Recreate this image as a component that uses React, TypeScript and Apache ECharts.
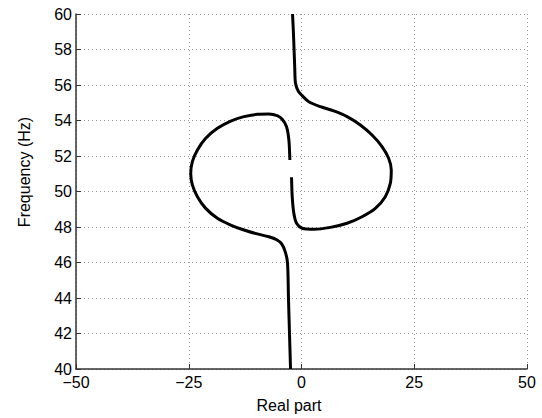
import React, { useEffect, useRef } from "react";
import * as echarts from "echarts";

const xTicks = [-50, -25, 0, 25, 50];
const yTicks = [40, 42, 44, 46, 48, 50, 52, 54, 56, 58, 60];

// Left loop + lower branch (x: real part, y: frequency Hz)
const curveAx = [-2.58, -2.8, -3.32, -4.28, -5.38, -7.23, -9.8, -12.76, -15.7, -18.65, -21.24, -23.08, -24.2, -24.56, -24.2, -23.08, -21.24, -18.65, -15.7, -12.76, -9.8, -7.23, -5.5, -4.4, -3.6, -3.1, -2.88, -2.65, -2.43];
const curveAy = [51.77, 52.9, 53.65, 54.07, 54.27, 54.37, 54.35, 54.22, 53.97, 53.56, 53.0, 52.34, 51.68, 51.02, 50.37, 49.71, 49.05, 48.49, 48.11, 47.83, 47.61, 47.45, 47.28, 47.05, 46.6, 45.97, 43.9, 41.9, 40.0];

// Upper branch + right loop
const curveBx = [-1.99, -1.8, -1.65, -1.5, -1.33, -0.7, 0.15, 1.62, 4.2, 7.15, 10.1, 13.05, 15.64, 17.85, 19.32, 19.91, 19.69, 18.58, 16.37, 13.43, 10.1, 6.42, 2.73, 0.15, -1.1, -1.7, -2.06, -2.21];
const curveBy = [60.0, 59.0, 58.0, 57.0, 56.1, 55.65, 55.4, 55.06, 54.78, 54.54, 54.22, 53.75, 53.18, 52.53, 51.87, 51.21, 50.46, 49.71, 49.05, 48.58, 48.21, 47.98, 47.87, 47.93, 48.21, 48.77, 49.71, 50.8];

const xLabel = "Real part";
const yLabel = "Frequency (Hz)";

const FONT = "'Liberation Sans', Arial, Helvetica, sans-serif";

export default function App() {
  const ref = useRef<HTMLDivElement>(null);
  useEffect(() => {
    if (!ref.current) return;
    const chart = echarts.init(ref.current, null, { renderer: "svg" });
    const pairs = (xs: number[], ys: number[]) => xs.map((x, i) => [x, ys[i]]);
    const fmt = (v: number) => (v < 0 ? "\u2212" + Math.abs(v) : String(v));
    const axisCommon = {
      type: "value" as const,
      axisLine: { show: true, onZero: false, lineStyle: { color: "#333", width: 1.5 } },
      axisTick: { show: true, inside: true, length: 5, lineStyle: { color: "#333", width: 1 } },
      splitLine: { show: true, lineStyle: { color: "#999", width: 1, type: [1, 3] as any } },
      axisLabel: { color: "#000", fontSize: 16, lineHeight: 12, fontFamily: FONT, formatter: fmt },
    };
    chart.setOption({
      animation: false,
      backgroundColor: "#fff",
      grid: { left: 76, right: 15, top: 14, bottom: 49, containLabel: false },
      xAxis: {
        ...axisCommon,
        min: xTicks[0],
        max: xTicks[xTicks.length - 1],
        interval: 25,
        axisLabel: { ...axisCommon.axisLabel, margin: 7 },
      },
      yAxis: {
        ...axisCommon,
        min: yTicks[0],
        max: yTicks[yTicks.length - 1],
        interval: 2,
        axisLabel: { ...axisCommon.axisLabel, margin: 4 },
      },
      series: [
        {
          type: "line",
          data: pairs(curveAx, curveAy),
          showSymbol: false,
          smooth: 0.3,
          lineStyle: { color: "#000", width: 3 },
        },
        {
          type: "line",
          data: pairs(curveBx, curveBy),
          showSymbol: false,
          smooth: 0.3,
          lineStyle: { color: "#000", width: 3 },
        },
      ],
      graphic: [
        {
          type: "text",
          x: 289,
          y: 405,
          style: { text: xLabel, fontSize: 16, fontFamily: FONT, fill: "#000", textAlign: "center", textVerticalAlign: "middle" },
        },
        {
          type: "text",
          x: 24,
          y: 172,
          rotation: Math.PI / 2,
          style: { text: yLabel, fontSize: 16, fontFamily: FONT, fill: "#000", textAlign: "center", textVerticalAlign: "middle" },
        },
      ],
    });
    return () => chart.dispose();
  }, []);
  return <div ref={ref} style={{ position: "fixed", left: 0, top: 0, width: 542, height: 418 }} />;
}
